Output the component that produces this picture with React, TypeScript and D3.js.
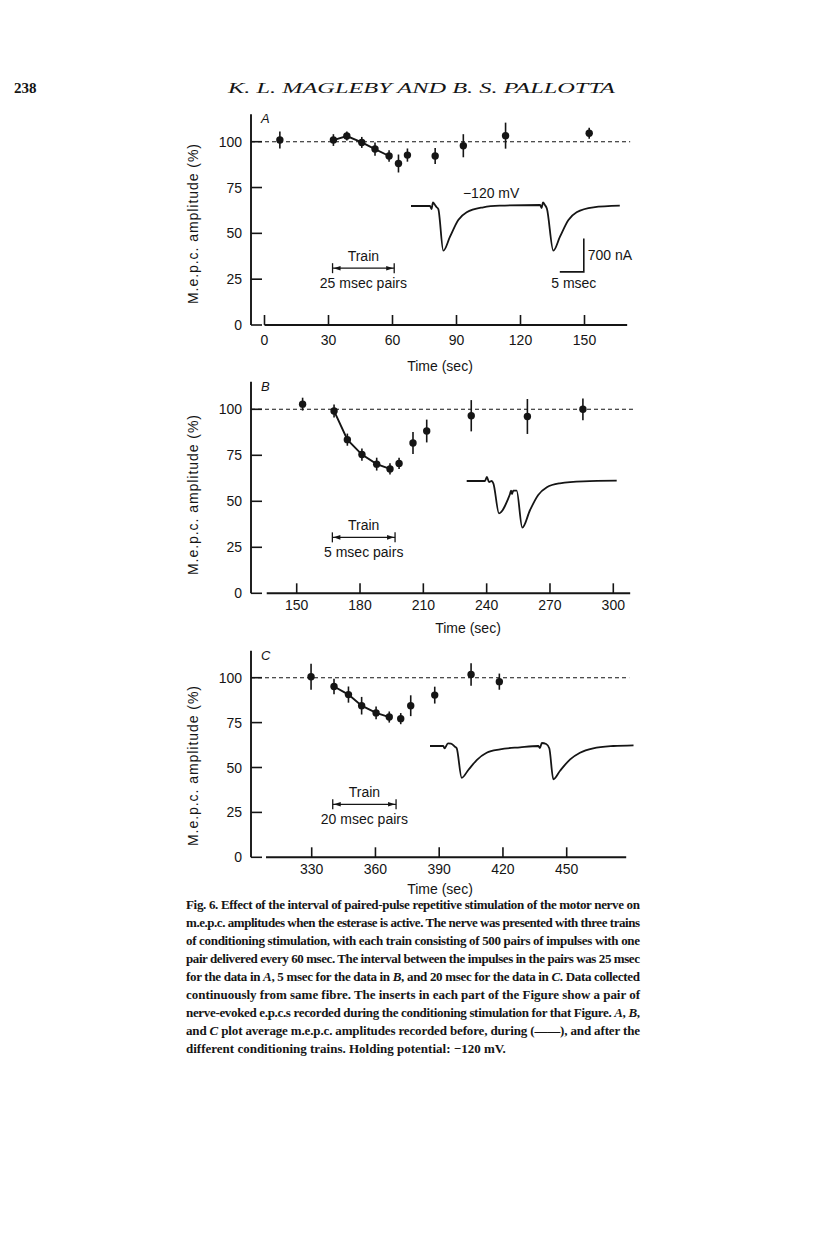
import * as d3 from 'd3';

// ---- data ----
const yTicks = [0, 25, 50, 75, 100];

// A: 25 msec pairs
const xTicksA = [0, 30, 60, 90, 120, 150];
const timeA = [7.2, 32.3, 38.6, 45.6, 51.8, 58.4, 62.8, 67, 80, 93.2, 113, 152.2];
const ampA = [100.9, 100.9, 103.1, 99.6, 96, 92.2, 88.1, 92.7, 92.2, 97.8, 103.3, 104.6];
const errA = [4.6, 3.2, 2.5, 3, 3.6, 3.1, 4.9, 3.6, 4.3, 6.3, 7.1, 3];
const trainA = [31.9, 60.8];
const joinedA = [1, 5];

// B: 5 msec pairs
const xTicksB = [150, 180, 210, 240, 270, 300];
const timeB = [152.8, 167.7, 174, 180.9, 187.9, 194.2, 198.5, 205.1, 211.6, 232.7, 259.3, 285.6];
const ampB = [102.8, 99.1, 83.5, 75.4, 70.2, 67.6, 70.6, 81.7, 88.2, 96.5, 96.1, 100];
const errB = [3.5, 3.5, 3.3, 3.3, 3.5, 3.1, 3.1, 6, 6.2, 8.5, 9.5, 5.9];
const trainB = [166.9, 196.6];
const joinedB = [1, 5];

// C: 20 msec pairs
const xTicksC = [330, 360, 390, 420, 450];
const timeC = [329.7, 340.5, 347.3, 353.5, 360.3, 366.5, 371.9, 376.6, 387.9, 405, 418.3];
const ampC = [100.5, 95.1, 90.6, 84.4, 80.4, 78.1, 77.2, 84.4, 90.3, 101.8, 97.8];
const errC = [7.2, 4.3, 4.5, 4.9, 3.6, 3.1, 3.1, 5.8, 4.7, 6.3, 4.5];
const trainC = [339.9, 369.7];
const joinedC = [1, 5];

// inserted e.p.c. records: [msec, nA] (inward current negative)
const traceA: [number, number][] = [
  [0, 0], [3.96, 0], [4.27, -63], [4.58, 73], [5.0, 21], [5.31, -21], [5.69, -63],
  [6.73, -937], [8.13, -644], [9.85, -294], [11.6, -132], [15.06, -27], [18.5, 6],
  [26.9, 21], [27.2, -42], [27.5, 73], [27.9, 21], [28.3, -52], [29.65, -937],
  [31.04, -644], [32.8, -294], [34.5, -132], [38.0, -27], [43.5, 6],
];
const traceB: [number, number][] = [
  [0, 0], [3.8, 0], [4.2, 84], [4.65, -21], [5.2, 0], [5.55, -48], [6.73, -677],
  [8.67, -363], [9.02, -273], [9.23, -200], [9.44, -273], [9.7, -203], [10.4, -203],
  [11.58, -979], [13.2, -608], [14.9, -294], [16.7, -132], [19.4, -48], [24.3, -6], [31.25, 6],
];
const traceC: [number, number][] = [
  [0, 0], [2.77, 0], [3.02, -48], [3.75, 57], [4.375, 52], [5.2, -15], [5.56, -48],
  [6.6, -665], [7.98, -503], [9.73, -294], [11.8, -140], [14.6, -69], [18.75, -27],
  [22.56, 0], [22.9, -42], [23.3, 63], [24.2, 42], [24.85, -48], [25.7, -698],
  [27.1, -518], [29.2, -279], [31.25, -140], [34, -48], [38.2, 0], [42.4, 15],
];
const scaleBarMs = 5;
const scaleBarNa = 700;

const captionLines = [
  'Fig. 6. Effect of the interval of paired-pulse repetitive stimulation of the motor nerve on',
  'm.e.p.c. amplitudes when the esterase is active. The nerve was presented with three trains',
  'of conditioning stimulation, with each train consisting of 500 pairs of impulses with one',
  'pair delivered every 60 msec. The interval between the impulses in the pairs was 25 msec',
  'for the data in |A|, 5 msec for the data in |B|, and 20 msec for the data in |C|. Data collected',
  'continuously from same fibre. The inserts in each part of the Figure show a pair of',
  'nerve-evoked e.p.c.s recorded during the conditioning stimulation for that Figure. |A|, |B|,',
  'and |C| plot average m.e.p.c. amplitudes recorded before, during (——), and after the',
  'different conditioning trains. Holding potential: −120 mV.',
];

const SANS = "'Liberation Sans', Arial, Helvetica, sans-serif";
const SERIF = "'Liberation Serif', 'Times New Roman', serif";
const INK = '#151515';

interface PanelProps {
  letter: string;
  xDomain: [number, number];
  xRange: [number, number];
  extent: [number, number];
  y0: number;
  y100: number;
  xTicks: number[];
  time: number[];
  amp: number[];
  err: number[];
  joined: number[];
  train: number[];
  trainLevel: number;
  trainLabel: string;
  tickDy: number;
  timeLabel: [number, number];
  yLabelCy: number;
  trace: [number, number][];
  traceOrigin: [number, number];
  extras?: (tx: d3.ScaleLinear<number, number>, ty: d3.ScaleLinear<number, number>) => React.ReactNode;
}

function Panel(p: PanelProps) {
  const x = d3.scaleLinear().domain(p.xDomain).range(p.xRange);
  const y = d3.scaleLinear().domain([0, 100]).range([p.y0, p.y100]);
  const axisLeft = 251;
  const yTop = y(115);
  const yBase = y(0);

  const joinedPts = d3.range(p.joined[0], p.joined[1] + 1).map((i) => [p.time[i], p.amp[i]] as [number, number]);
  const joinLine = d3.line<[number, number]>().x((d) => x(d[0])).y((d) => y(d[1]));

  const tx = d3.scaleLinear().domain([0, scaleBarMs]).range([p.traceOrigin[0], p.traceOrigin[0] + 24]);
  const ty = d3.scaleLinear().domain([0, -scaleBarNa]).range([p.traceOrigin[1], p.traceOrigin[1] + 33.4]);
  const traceLine = d3.line<[number, number]>().x((d) => tx(d[0])).y((d) => ty(d[1])).curve(d3.curveMonotoneX);

  const tb = y(p.trainLevel);
  const t0 = x(p.train[0]);
  const t1 = x(p.train[1]);

  return (
    <g>
      {/* axes */}
      <line x1={axisLeft} x2={axisLeft} y1={yTop} y2={yBase} stroke={INK} strokeWidth={1.9} />
      <line x1={x(p.extent[0])} x2={x(p.extent[1])} y1={yBase} y2={yBase} stroke={INK} strokeWidth={1.9} />
      {yTicks.map((v) => (
        <g key={v}>
          <line x1={axisLeft} x2={axisLeft + 11} y1={y(v)} y2={y(v)} stroke={INK} strokeWidth={1.6} />
          <text x={242} y={y(v)} dy="0.36em" textAnchor="end" fontSize={14} fontFamily={SANS} fill={INK}>
            {v}
          </text>
        </g>
      ))}
      {p.xTicks.map((v) => (
        <g key={v}>
          <line x1={x(v)} x2={x(v)} y1={yBase} y2={yBase - 10} stroke={INK} strokeWidth={1.6} />
          <text x={x(v)} y={yBase + p.tickDy} textAnchor="middle" fontSize={14} fontFamily={SANS} fill={INK}>
            {v}
          </text>
        </g>
      ))}
      <text x={p.timeLabel[0]} y={p.timeLabel[1]} textAnchor="middle" fontSize={14} fontFamily={SANS} fill={INK}>
        Time (sec)
      </text>
      <text
        transform={`translate(198,${p.yLabelCy}) rotate(-90)`}
        textAnchor="middle"
        fontSize={14}
        fontFamily={SANS}
        fill={INK}
        textLength={160}
        lengthAdjust="spacing"
      >
        M.e.p.c. amplitude (%)
      </text>
      <text x={axisLeft + 10} y={yTop + 9} fontSize={13} fontStyle="italic" fontFamily={SANS} fill={INK}>
        {p.letter}
      </text>

      {/* control level */}
      <line x1={axisLeft} x2={x(p.extent[1]) + 3} y1={y(100)} y2={y(100)} stroke={INK} strokeWidth={1.1} strokeDasharray="4 3" />

      {/* points during the train */}
      <path d={joinLine(joinedPts) ?? ''} fill="none" stroke={INK} strokeWidth={1.9} />
      {p.time.map((t, i) => (
        <g key={i}>
          <line x1={x(t)} x2={x(t)} y1={y(p.amp[i] - p.err[i])} y2={y(p.amp[i] + p.err[i])} stroke={INK} strokeWidth={1.6} />
          <circle cx={x(t)} cy={y(p.amp[i])} r={3.7} fill={INK} />
        </g>
      ))}

      {/* train marker */}
      <line x1={t0} x2={t1} y1={tb} y2={tb} stroke={INK} strokeWidth={1.3} />
      <line x1={t0} x2={t0} y1={tb - 5} y2={tb + 5} stroke={INK} strokeWidth={1.3} />
      <line x1={t1} x2={t1} y1={tb - 5} y2={tb + 5} stroke={INK} strokeWidth={1.3} />
      <path d={`M${t0 + 1},${tb}L${t0 + 8},${tb - 2.3}L${t0 + 8},${tb + 2.3}Z`} fill={INK} />
      <path d={`M${t1 - 1},${tb}L${t1 - 8},${tb - 2.3}L${t1 - 8},${tb + 2.3}Z`} fill={INK} />
      <text x={(t0 + t1) / 2} y={tb - 7} textAnchor="middle" fontSize={14} fontFamily={SANS} fill={INK}>
        Train
      </text>
      <text x={(t0 + t1) / 2} y={tb + 20} textAnchor="middle" fontSize={14} fontFamily={SANS} fill={INK}>
        {p.trainLabel}
      </text>

      {/* insert */}
      <path d={traceLine(p.trace) ?? ''} fill="none" stroke={INK} strokeWidth={1.8} strokeLinejoin="round" />
      {p.extras ? p.extras(tx, ty) : null}
    </g>
  );
}

function CaptionLine({ text, y, justify }: { text: string; y: number; justify: boolean }) {
  const parts = text.split('|');
  return (
    <text
      x={186}
      y={y}
      fontSize={13}
      fontWeight="bold"
      fontFamily={SERIF}
      fill={INK}
      textLength={justify ? 454 : undefined}
      lengthAdjust={justify ? 'spacing' : undefined}
    >
      {parts.map((s, i) => (
        <tspan key={i} fontStyle={i % 2 === 1 ? 'italic' : 'normal'}>
          {s}
        </tspan>
      ))}
    </text>
  );
}

export default function App() {
  return (
    <svg
      width={816}
      height={1243}
      viewBox="0 0 816 1243"
      style={{ position: 'absolute', left: 0, top: 0, background: '#fff' }}
    >
      <rect width={816} height={1243} fill="#fff" />
      <text x={14} y={93} fontSize={15} fontWeight="bold" fontFamily={SERIF} fill={INK}>
        238
      </text>
      <text x={228} y={93} fontSize={15} fontStyle="italic" fontFamily={SERIF} fill={INK} textLength={387} lengthAdjust="spacingAndGlyphs">
        K. L. MAGLEBY AND B. S. PALLOTTA
      </text>

      <Panel
        letter="A"
        xDomain={[0, 150]}
        xRange={[264.5, 584.5]}
        extent={[0, 170]}
        y0={325}
        y100={141.7}
        xTicks={xTicksA}
        time={timeA}
        amp={ampA}
        err={errA}
        joined={joinedA}
        train={trainA}
        trainLevel={31}
        trainLabel="25 msec pairs"
        tickDy={20}
        timeLabel={[440, 371]}
        yLabelCy={224}
        trace={traceA}
        traceOrigin={[411, 206]}
        extras={(tx, ty) => {
          const cx = tx(36);
          const cy = ty(-1380);
          return (
            <g>
              <path
                d={`M${tx(36 - scaleBarMs)},${cy}L${cx},${cy}L${cx},${ty(-1380 + scaleBarNa)}`}
                fill="none"
                stroke={INK}
                strokeWidth={1.6}
              />
              <text x={cx + 4} y={(cy + ty(-1380 + scaleBarNa)) / 2 + 5} fontSize={14} fontFamily={SANS} fill={INK}>
                700 nA
              </text>
              <text x={cx - 10} y={cy + 16} textAnchor="middle" fontSize={14} fontFamily={SANS} fill={INK}>
                5 msec
              </text>
              <text x={tx(16.7)} y={ty(170)} textAnchor="middle" fontSize={14} fontFamily={SANS} fill={INK}>
                −120 mV
              </text>
            </g>
          );
        }}
      />

      <Panel
        letter="B"
        xDomain={[150, 300]}
        xRange={[296.7, 613.3]}
        extent={[135.8, 308]}
        y0={593.3}
        y100={409.3}
        xTicks={xTicksB}
        time={timeB}
        amp={ampB}
        err={errB}
        joined={joinedB}
        train={trainB}
        trainLevel={30.4}
        trainLabel="5 msec pairs"
        tickDy={17}
        timeLabel={[468, 633]}
        yLabelCy={495}
        trace={traceB}
        traceOrigin={[466.7, 481]}
      />

      <Panel
        letter="C"
        xDomain={[330, 450]}
        xRange={[311.7, 566.7]}
        extent={[308.5, 478]}
        y0={857.3}
        y100={677.7}
        xTicks={xTicksC}
        time={timeC}
        amp={ampC}
        err={errC}
        joined={joinedC}
        train={trainC}
        trainLevel={29.5}
        trainLabel="20 msec pairs"
        tickDy={17}
        timeLabel={[440, 894]}
        yLabelCy={766}
        trace={traceC}
        traceOrigin={[430, 746]}
      />

      {captionLines.map((t, i) => (
        <CaptionLine key={i} text={t} y={909 + i * 18} justify={i < captionLines.length - 1} />
      ))}
    </svg>
  );
}
